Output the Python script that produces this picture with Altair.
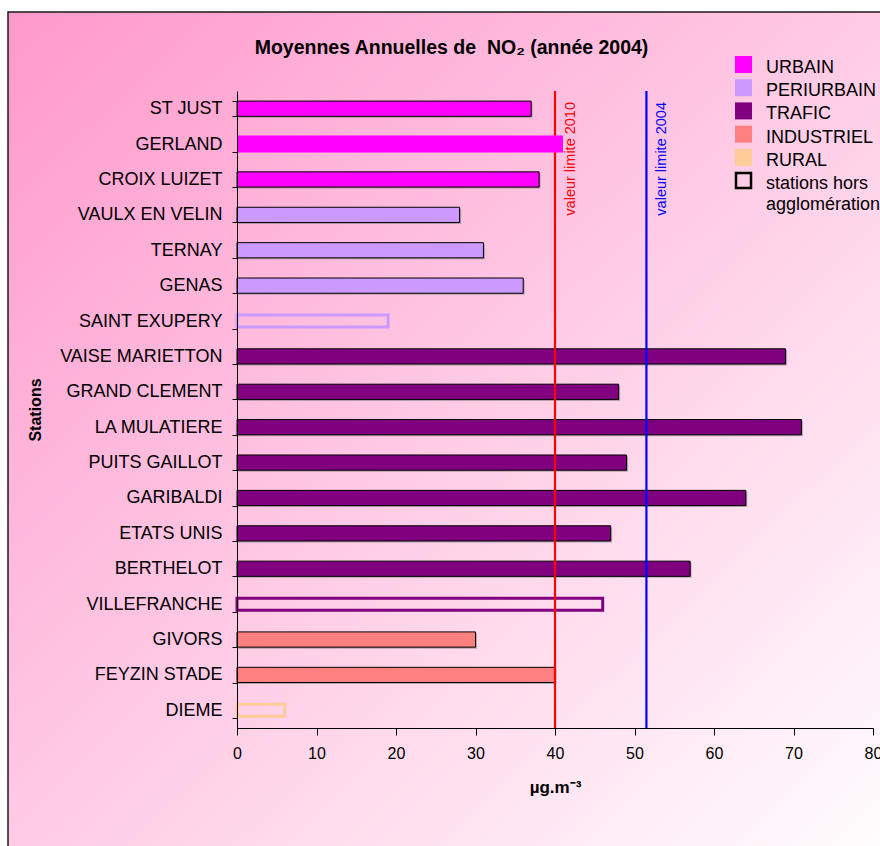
import altair as alt
import pandas as pd

# --- data -------------------------------------------------------------
stations = [
    "ST JUST", "GERLAND", "CROIX LUIZET", "VAULX EN VELIN", "TERNAY", "GENAS",
    "SAINT EXUPERY", "VAISE MARIETTON", "GRAND CLEMENT", "LA MULATIERE",
    "PUITS GAILLOT", "GARIBALDI", "ETATS UNIS", "BERTHELOT", "VILLEFRANCHE",
    "GIVORS", "FEYZIN STADE", "DIEME",
]
no2 = [37, 41, 38, 28, 31, 36, 19, 69, 48, 71, 49, 64, 47, 57, 46, 30, 40, 6]
types = (["URBAIN"] * 3 + ["PERIURBAIN"] * 4 + ["TRAFIC"] * 8
         + ["INDUSTRIEL"] * 2 + ["RURAL"])
outside_agglo = ["SAINT EXUPERY", "VILLEFRANCHE", "DIEME"]
highlighted = ["GERLAND"]

type_names = ["URBAIN", "PERIURBAIN", "TRAFIC", "INDUSTRIEL", "RURAL"]
type_colors = ["#FF00FF", "#CC99FF", "#800080", "#FF8080", "#FFCC99"]

limit_values = [40, 51.5]
limit_labels = ["valeur limite 2010", "valeur limite 2004"]
limit_colors = ["#FF0000", "#0000FF"]

legend_rows = [0, 1, 2, 3, 4]
hollow_row = [5]
hollow_label = ["stations hors\nagglomération"]

title_text = "Moyennes Annuelles de \u00a0NO\u2082 (année 2004)"
x_title = "µg.m\u207b\u00b3"
y_title = "Stations"

FONT = "Liberation Sans"
W, H = 636, 637
LEFT, TOP = 237, 91

df = pd.DataFrame({"station": stations, "value": no2, "type": types})
df["hors"] = df["station"].isin(outside_agglo)
df["hl"] = df["station"].isin(highlighted)

limits = pd.DataFrame({"value": limit_values, "label": limit_labels})
legend_df = pd.DataFrame({"row": legend_rows, "type": type_names})
hollow_df = pd.DataFrame({"row": hollow_row, "label": hollow_label})
one = pd.DataFrame({"k": [0]})

fill_scale = alt.Scale(domain=type_names, range=type_colors)
limit_scale = alt.Scale(domain=limit_labels, range=limit_colors)

y_enc = alt.Y(
    "station:N", sort=stations,
    scale=alt.Scale(domain=stations, paddingInner=0.57, paddingOuter=0.285),
    axis=alt.Axis(
        title=y_title, titleFontSize=16, titleFontWeight="bold", titleColor="black",
        titleAngle=270, titleX=-202, titleY=H / 2, titleAlign="center",
        titleBaseline="middle", titleFont=FONT,
        labelFontSize=18, labelColor="black", labelFont=FONT, labelPadding=10,
        labelLimit=0, tickSize=5, tickColor="black", tickBand="extent",
        domainColor="black", domainWidth=1, grid=False, zindex=1,
    ),
)
x_enc = alt.X(
    "value:Q",
    scale=alt.Scale(domain=[0, 80], nice=False),
    axis=alt.Axis(
        values=[0, 10, 20, 30, 40, 50, 60, 70, 80], format="d",
        title=x_title, titleFontSize=17, titleFontWeight="bold", titleColor="black",
        titleFont=FONT, titleY=64, titleBaseline="alphabetic",
        labelFontSize=16, labelColor="black", labelFont=FONT, labelPadding=10,
        labelFlush=False, tickSize=7, tickColor="black",
        domainColor="black", domainWidth=1, grid=False, zindex=1,
    ),
)

# --- background panel with diagonal gradient ---------------------------
gradient = alt.LinearGradient(
    gradient="linear",
    stops=[alt.GradientStop(color="#FF99CC", offset=0),
           alt.GradientStop(color="#FFFFFF", offset=1)],
    x1=0, y1=0, x2=1, y2=1,
)
background = alt.Chart(one).mark_rect(
    fill=gradient, stroke="#1a1a1a", strokeWidth=1.5
).encode(
    x=alt.value(8 - LEFT), x2=alt.value(900 - LEFT),
    y=alt.value(12 - TOP), y2=alt.value(870 - TOP),
)

base = alt.Chart(df).encode(y=y_enc, x=x_enc)

solid = base.transform_filter("!datum.hors && !datum.hl")

shadow = solid.mark_bar(
    fill="#7a7a7a", opacity=0.55, xOffset=1.5, yOffset=1.5
)
filled = solid.mark_bar(stroke="black", strokeWidth=1).encode(
    fill=alt.Fill("type:N", scale=fill_scale, legend=None)
)
hollow = base.transform_filter("datum.hors").mark_bar(
    fillOpacity=0, strokeWidth=3, size=12
).encode(
    stroke=alt.Stroke("type:N", scale=fill_scale, legend=None)
)
highlight = base.transform_filter("datum.hl").mark_bar(size=17).encode(
    fill=alt.Fill("type:N", scale=fill_scale, legend=None)
)

# --- limit values ------------------------------------------------------
limit_base = alt.Chart(limits).encode(
    x=alt.X("value:Q"),
    color=alt.Color("label:N", scale=limit_scale, legend=None),
)
limit_rules = limit_base.mark_rule(strokeWidth=2.2)
limit_text = limit_base.mark_text(
    angle=270, align="right", baseline="top", dx=-11, dy=9,
    fontSize=14.5, font=FONT,
).encode(y=alt.value(0), text="label:N")

# --- title -------------------------------------------------------------
title = alt.Chart(one).mark_text(
    fontSize=19.5, fontWeight="bold", font=FONT, color="black",
    align="center", baseline="middle",
).encode(
    x=alt.value(451.5 - LEFT), y=alt.value(48 - TOP),
    text=alt.value(title_text),
)

# --- legend ------------------------------------------------------------
legend_y = alt.Y("row:Q", scale=alt.Scale(domain=[0, 5], range=[64.5 - TOP, 180.5 - TOP]),
                 axis=None)
legend_squares = alt.Chart(legend_df).mark_point(
    shape="square", filled=True, size=289, opacity=1
).encode(
    x=alt.value(743.5 - LEFT), y=legend_y,
    fill=alt.Fill("type:N", scale=fill_scale, legend=None),
)
legend_labels = alt.Chart(legend_df).mark_text(
    align="left", baseline="alphabetic", dy=8.5, fontSize=18, font=FONT,
    color="black",
).encode(x=alt.value(766 - LEFT), y=legend_y, text="type:N")

hollow_square = alt.Chart(hollow_df).mark_point(
    shape="square", filled=False, size=225, stroke="black", strokeWidth=2.5,
    opacity=1,
).encode(x=alt.value(743.5 - LEFT), y=legend_y)
hollow_label_mark = alt.Chart(hollow_df).mark_text(
    align="left", baseline="alphabetic", dy=8.5, fontSize=18, font=FONT,
    color="black", lineBreak="\n", lineHeight=21,
).encode(x=alt.value(766 - LEFT), y=legend_y, text="label:N")

# bars, limits and title share the station scale; the legend keeps its own
plot_layers = alt.layer(
    background, shadow, filled, hollow, limit_rules, highlight, limit_text, title,
)
legend_layers = alt.layer(
    legend_squares, legend_labels, hollow_square, hollow_label_mark,
)

chart = alt.layer(plot_layers, legend_layers).resolve_scale(
    y="independent"
).resolve_axis(
    y="independent"
).properties(
    width=W, height=H,
    padding={"left": LEFT, "top": TOP, "right": 880 - LEFT - W, "bottom": 846 - TOP - H},
    autosize="none",
    background="white",
).configure(
    font=FONT
).configure_view(
    stroke=None
)

chart.save("out.html", embed_options={"renderer": "svg", "actions": False})
